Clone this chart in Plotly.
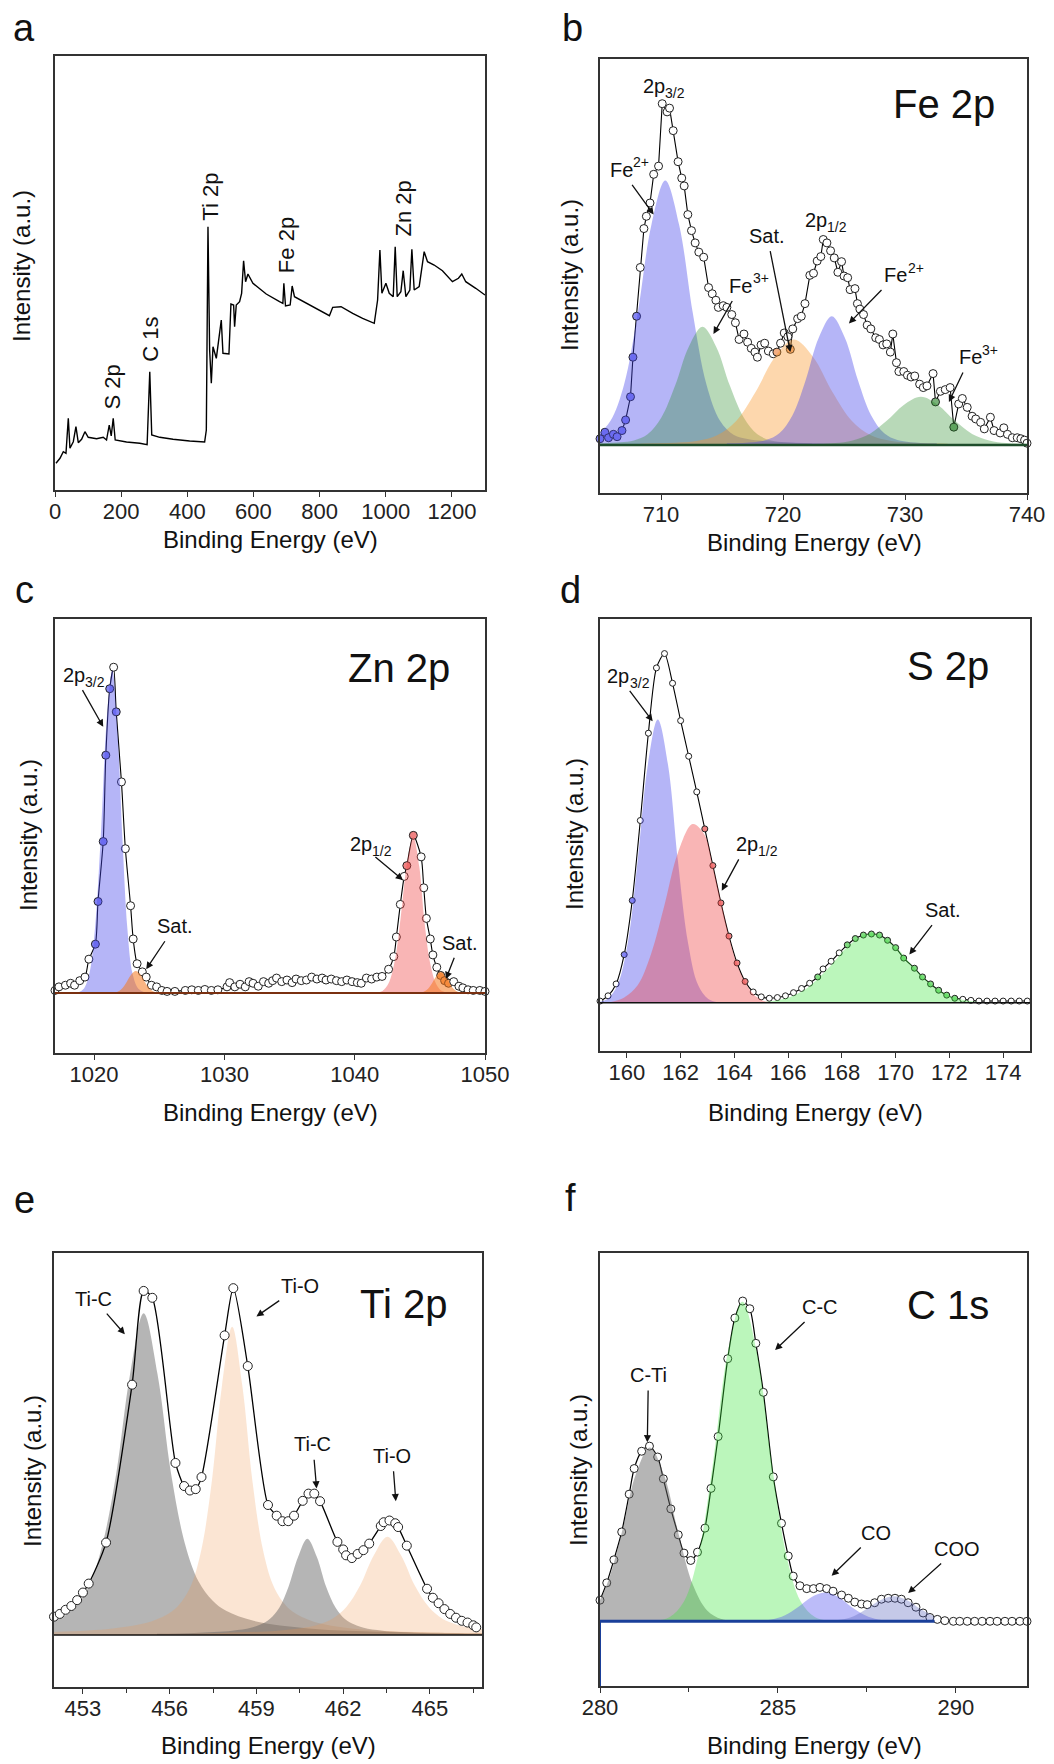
import numpy as np
import plotly.graph_objects as go

# ------------------------------------------------------------------ data
# (a) survey spectrum
A_E = [3.0, 15.1, 25.1, 33.2, 40.2, 45.2, 55.3, 63.3, 70.4, 80.4, 90.5, 100.5, 125.7, 145.8, 155.8, 164.0, 170.0, 176.0, 182.0, 216.2, 256.4, 278.5, 286.5, 292.5, 316.7, 356.9, 407.2, 452.4, 457.5, 462.5, 467.5, 472.6, 477.6, 487.7, 502.7, 507.8, 525.9, 531.9, 540.0, 543.0, 548.0, 558.1, 564.2, 570.2, 576.2, 583.3, 598.4, 638.6, 678.8, 688.9, 691.9, 696.9, 711.0, 717.0, 724.0, 759.2, 799.4, 829.6, 839.6, 864.8, 900.0, 930.0, 965.2, 975.3, 982.3, 988.3, 1000.4, 1010.5, 1022.5, 1028.5, 1034.6, 1045.7, 1052.7, 1060.8, 1072.8, 1078.9, 1085.9, 1101.0, 1116.1, 1126.2, 1146.3, 1171.4, 1201.6, 1219.7, 1229.8, 1241.8, 1272.0, 1300.0]
A_I = [26.7, 31.7, 38.3, 36.7, 71.7, 41.7, 48.3, 63.3, 47.3, 50.7, 58.3, 52.7, 51.3, 52.7, 50.0, 65.0, 54.0, 71.7, 50.0, 48.0, 46.7, 45.3, 118.3, 55.0, 52.7, 50.7, 49.0, 48.0, 60.0, 263.3, 140.0, 106.7, 143.3, 131.7, 170.0, 136.7, 136.0, 186.0, 185.0, 163.3, 185.0, 188.3, 196.7, 229.3, 208.3, 216.0, 206.7, 196.0, 188.3, 186.7, 206.7, 184.0, 185.0, 204.0, 193.3, 186.7, 180.0, 174.3, 182.7, 183.3, 176.7, 171.7, 166.7, 190.0, 240.0, 196.7, 206.7, 196.7, 193.3, 243.3, 193.3, 198.3, 219.3, 193.3, 200.0, 240.7, 200.0, 203.3, 238.3, 228.3, 225.0, 219.3, 208.3, 211.7, 216.0, 208.3, 201.7, 195.0]
A_LABELS = ["S 2p", "C 1s", "Ti 2p", "Fe 2p", "Zn 2p"]
A_LABEL_E = [171, 286.6, 467.5, 698.8, 1050.6]
A_LABEL_I = [103, 151, 293, 245, 281]

# (b) Fe 2p
B_E = [705.0, 705.4, 705.7, 706.1, 706.4, 706.8, 707.1, 707.5, 707.7, 708.0, 708.3, 708.6, 708.8, 709.1, 709.4, 709.8, 710.1, 710.5, 710.7, 711.0, 711.4, 711.7, 711.9, 712.2, 712.5, 712.8, 713.1, 713.5, 713.9, 714.2, 714.5, 714.7, 715.1, 715.4, 715.8, 716.1, 716.4, 716.8, 717.1, 717.4, 717.7, 717.9, 718.2, 718.5, 718.8, 719.2, 719.5, 719.8, 720.1, 720.4, 720.6, 720.8, 721.2, 721.5, 721.8, 722.2, 722.5, 722.8, 723.1, 723.3, 723.6, 723.9, 724.2, 724.5, 724.8, 725.0, 725.3, 725.5, 725.9, 726.1, 726.3, 726.6, 726.9, 727.2, 727.6, 727.9, 728.2, 728.5, 728.8, 729.0, 729.3, 729.5, 729.9, 730.2, 730.5, 730.8, 731.2, 731.5, 731.8, 732.3, 732.5, 732.9, 733.3, 733.7, 734.0, 734.4, 734.7, 735.1, 735.5, 735.8, 736.2, 736.5, 737.0, 737.3, 737.8, 738.1, 738.4, 738.8, 739.2, 739.5, 739.8, 740.0]
B_I = [1.8, 3.7, 2.1, 3.1, 2.4, 4.2, 7.3, 14.1, 25.7, 37.7, 52.0, 63.4, 67.0, 70.9, 79.3, 81.7, 100.0, 97.6, 98.7, 92.1, 83.0, 78.2, 75.9, 67.5, 62.8, 59.2, 56.5, 55.0, 46.1, 44.3, 42.4, 40.3, 40.8, 40.3, 38.2, 35.8, 30.9, 32.5, 30.1, 28.3, 27.2, 25.7, 29.3, 29.8, 27.5, 26.7, 27.2, 29.8, 32.8, 31.7, 28.0, 34.0, 37.0, 37.7, 41.4, 49.7, 50.3, 53.9, 55.2, 60.2, 59.2, 56.9, 54.8, 50.6, 53.7, 49.5, 49.0, 45.5, 45.8, 41.4, 39.8, 38.2, 35.1, 34.0, 31.4, 30.9, 29.3, 29.6, 27.2, 32.5, 24.1, 21.5, 21.5, 20.4, 19.9, 20.2, 17.8, 16.8, 17.3, 20.9, 12.6, 15.7, 16.2, 16.8, 5.2, 12.0, 13.6, 11.0, 8.4, 7.6, 6.6, 4.7, 8.1, 4.2, 3.5, 5.0, 3.1, 2.1, 2.1, 1.8, 1.4, 0.5]
B_FE2_32_E = [703.6, 704.72, 705.85, 706.98, 708.1, 709.22, 710.35, 711.48, 712.6, 713.72, 714.85, 715.98, 717.1, 719.35, 723.85]
B_FE2_32_I = [1.7, 2.9, 7.0, 17.8, 38.8, 64.6, 77.5, 64.6, 38.8, 17.8, 7.0, 2.9, 1.7, 0.9, 0.3]
B_FE3_32_E = [704.4, 706.65, 707.78, 708.9, 710.03, 711.15, 712.28, 713.4, 714.52, 715.65, 716.78, 717.9, 719.03, 720.15, 722.4]
B_FE3_32_I = [0.4, 0.75, 1.3, 3.1, 8.0, 17.3, 28.8, 34.6, 28.8, 17.3, 8.0, 3.1, 1.3, 0.75, 0.4]
B_SAT_E = [708.3, 711.45, 713.03, 714.6, 716.18, 717.75, 719.33, 720.9, 722.48, 724.05, 725.63, 727.2, 728.78, 730.35, 733.5]
B_SAT_I = [0.37, 0.67, 1.2, 2.8, 7.1, 15.5, 25.7, 30.9, 25.7, 15.5, 7.1, 2.8, 1.2, 0.67, 0.37]
B_FE2_12_E = [715.4, 717.55, 718.62, 719.7, 720.78, 721.85, 722.93, 724.0, 725.07, 726.15, 727.22, 728.3, 729.38, 730.45, 732.6]
B_FE2_12_I = [0.45, 0.8, 1.4, 3.4, 8.7, 18.9, 31.4, 37.7, 31.4, 18.9, 8.7, 3.4, 1.4, 0.8, 0.45]
B_FE3_12_E = [720.1, 722.9, 724.3, 725.7, 727.1, 728.5, 729.9, 731.3, 732.7, 734.1, 735.5, 736.9, 738.3, 739.7, 742.5]
B_FE3_12_I = [0.17, 0.3, 0.54, 1.3, 3.2, 7.05, 11.7, 14.1, 11.7, 7.05, 3.2, 1.3, 0.54, 0.3, 0.17]

# (c) Zn 2p
C_E = [1017.0, 1017.3, 1017.8, 1018.2, 1018.5, 1018.9, 1019.3, 1019.6, 1020.1, 1020.3, 1020.7, 1020.9, 1021.2, 1021.5, 1021.7, 1022.1, 1022.4, 1022.8, 1023.0, 1023.3, 1023.7, 1024.0, 1024.4, 1024.8, 1025.2, 1025.6, 1026.2, 1027.0, 1027.5, 1028.0, 1028.5, 1029.0, 1029.5, 1030.2, 1030.4, 1030.8, 1031.2, 1031.6, 1031.9, 1032.2, 1032.6, 1033.0, 1033.4, 1033.7, 1034.0, 1034.4, 1034.8, 1035.2, 1035.5, 1035.9, 1036.3, 1036.7, 1037.1, 1037.5, 1037.8, 1038.2, 1038.6, 1039.0, 1039.4, 1039.8, 1040.2, 1040.5, 1040.9, 1041.3, 1041.7, 1042.1, 1042.6, 1043.0, 1043.2, 1043.5, 1043.8, 1044.0, 1044.5, 1045.1, 1045.3, 1045.5, 1045.8, 1046.0, 1046.3, 1046.6, 1046.9, 1047.2, 1047.6, 1048.0, 1048.3, 1048.7, 1049.1, 1049.6, 1050.0]
C_I = [0.8, 1.9, 2.4, 3.0, 2.4, 3.8, 4.9, 10.4, 15.0, 28.1, 46.5, 73.0, 93.4, 100.0, 86.3, 64.8, 44.3, 26.8, 16.6, 9.0, 6.5, 4.9, 2.4, 1.9, 0.8, 0.5, 0.5, 0.8, 1.0, 0.8, 1.1, 0.8, 1.0, 1.9, 3.2, 1.9, 2.7, 1.9, 3.5, 3.0, 2.1, 3.5, 3.0, 3.8, 4.6, 3.5, 4.0, 3.2, 4.3, 3.8, 4.0, 4.9, 4.3, 4.6, 4.0, 4.3, 3.8, 3.5, 4.0, 3.5, 3.2, 3.0, 4.6, 4.3, 4.9, 5.1, 7.3, 11.2, 17.2, 27.2, 35.8, 39.1, 48.4, 41.8, 32.3, 22.9, 16.6, 11.7, 7.9, 5.4, 3.8, 3.0, 3.5, 2.1, 1.6, 1.0, 0.8, 0.8, 0.5]
C_2P32_E = [1018.78, 1019.21, 1019.65, 1020.09, 1020.53, 1020.96, 1021.4, 1021.8, 1022.18, 1022.55, 1022.95, 1023.4, 1023.9]
C_2P32_I = [0.2, 1.3, 6.2, 20.8, 49.5, 83.3, 99.0, 80.0, 47.0, 20.0, 6.0, 1.3, 0.2]
C_SAT1_E = [1021.1, 1021.45, 1021.8, 1022.15, 1022.5, 1022.85, 1023.2, 1023.55, 1023.9, 1024.25, 1024.6, 1024.95, 1025.3]
C_SAT1_I = [0.01, 0.09, 0.43, 1.43, 3.4, 5.7, 6.8, 5.7, 3.4, 1.43, 0.43, 0.09, 0.01]
C_2P12_E = [1041.65, 1042.13, 1042.6, 1043.08, 1043.55, 1044.03, 1044.5, 1044.95, 1045.35, 1045.8, 1046.25, 1046.7, 1047.2]
C_2P12_I = [0.1, 0.64, 3.0, 10.0, 23.9, 40.2, 47.8, 39.0, 22.0, 9.0, 2.8, 0.6, 0.1]
C_SAT2_E = [1044.65, 1044.98, 1045.3, 1045.63, 1045.95, 1046.28, 1046.6, 1046.93, 1047.25, 1047.58, 1047.9, 1048.23, 1048.55]
C_SAT2_I = [0.01, 0.08, 0.39, 1.3, 3.1, 5.2, 6.2, 5.2, 3.1, 1.3, 0.39, 0.08, 0.01]

# (d) S 2p
D_E = [159.0, 159.3, 159.6, 159.9, 160.2, 160.5, 160.8, 161.1, 161.4, 161.7, 162.0, 162.3, 162.6, 162.9, 163.2, 163.5, 163.8, 164.1, 164.4, 164.7, 165.0, 165.3, 165.6, 165.9, 166.2, 166.5, 166.8, 167.1, 167.3, 167.6, 167.9, 168.2, 168.5, 168.8, 169.1, 169.4, 169.7, 170.0, 170.3, 170.7, 171.0, 171.3, 171.6, 171.9, 172.2, 172.5, 172.8, 173.1, 173.4, 173.7, 174.0, 174.3, 174.6, 174.9]
D_I = [0.5, 2.0, 5.4, 13.8, 29.3, 52.2, 77.2, 95.9, 100.0, 91.5, 80.8, 70.6, 60.4, 49.8, 39.3, 28.6, 19.1, 11.4, 6.1, 3.1, 1.7, 1.3, 1.5, 2.0, 2.9, 4.1, 5.6, 7.4, 9.7, 11.9, 14.3, 16.6, 18.4, 19.4, 19.7, 19.4, 17.9, 15.8, 12.8, 9.9, 7.4, 5.4, 3.6, 2.2, 1.3, 1.0, 0.7, 0.5, 0.5, 0.5, 0.5, 0.5, 0.5, 0.5]
D_2P32_E = [158.9, 159.28, 159.65, 160.03, 160.4, 160.78, 161.15, 161.53, 161.9, 162.28, 162.65, 163.03, 163.4]
D_2P32_I = [0.16, 1.1, 5.1, 17.0, 40.6, 68.2, 81.1, 68.2, 40.6, 17.0, 5.1, 1.1, 0.16]
D_2P12_E = [159.3, 159.9, 160.4, 160.9, 161.4, 161.9, 162.45, 162.9, 163.2, 163.5, 163.8, 164.1, 164.4, 164.7, 165.1, 165.5]
D_2P12_I = [0.0, 1.5, 5.0, 14.0, 28.0, 43.0, 51.2, 48.0, 39.0, 29.0, 19.0, 11.0, 6.0, 2.5, 0.5, 0.0]
D_SAT_E = [164.3, 165.1, 165.9, 166.7, 167.5, 168.3, 169.1, 169.9, 170.7, 171.5, 172.3, 173.1, 173.9]
D_SAT_I = [0.04, 0.26, 1.24, 4.2, 9.95, 16.7, 19.9, 16.7, 9.95, 4.2, 1.24, 0.26, 0.04]

# (e) Ti 2p
E_E = [452.0, 452.2, 452.4, 452.6, 452.8, 453.0, 453.2, 453.8, 454.7, 455.1, 455.4, 456.2, 456.5, 456.7, 456.9, 457.1, 457.9, 458.2, 458.7, 459.4, 459.7, 459.9, 460.1, 460.3, 460.6, 460.8, 461.0, 461.2, 461.8, 462.0, 462.1, 462.3, 462.5, 462.7, 462.9, 463.3, 463.4, 463.6, 463.8, 463.9, 464.2, 464.9, 465.1, 465.3, 465.5, 465.7, 465.9, 466.1, 466.3, 466.5, 466.6]
E_I = [5.3, 6.1, 7.3, 8.4, 10.1, 12.3, 14.9, 26.8, 72.6, 99.8, 97.8, 49.9, 43.2, 41.9, 42.3, 45.8, 86.9, 100.6, 78.0, 37.7, 34.6, 33.0, 33.0, 34.6, 38.9, 41.0, 41.0, 38.8, 27.0, 24.8, 23.1, 22.3, 23.5, 24.6, 26.5, 31.6, 32.7, 33.2, 32.4, 31.3, 25.9, 13.4, 10.8, 9.2, 7.5, 6.1, 5.0, 4.1, 3.6, 2.8, 2.2]
E_TIC1_E = [451.3, 452.25, 452.73, 453.2, 453.68, 454.15, 454.63, 455.1, 455.58, 456.05, 456.53, 457.0, 457.48, 457.95, 458.9, 460.8, 462.7, 466.5, 467.0]
E_TIC1_I = [2.5, 5.0, 8.0, 14.0, 26.4, 46.7, 75.6, 93.3, 75.6, 46.7, 26.4, 15.5, 10.0, 7.0, 4.1, 1.9, 1.1, 0.5, 0.45]
E_TIO1_E = [451.16, 453.96, 455.36, 456.06, 456.41, 456.76, 457.11, 457.46, 457.81, 458.16, 458.51, 458.86, 459.21, 459.56, 459.91, 460.26, 460.96, 462.36, 465.16, 467.2]
E_TIO1_I = [0.7, 1.8, 3.9, 6.7, 9.6, 14.8, 25.3, 44.7, 72.4, 89.4, 72.4, 44.7, 25.3, 14.8, 9.6, 6.7, 3.9, 1.8, 0.7, 0.45]
E_TIC2_E = [455.56, 456.86, 458.16, 458.81, 459.14, 459.46, 459.79, 460.11, 460.44, 460.76, 461.09, 461.41, 461.74, 462.06, 462.39, 462.71, 463.36, 464.66, 465.96, 467.2]
E_TIC2_I = [0.32, 0.57, 1.23, 2.1, 3.0, 4.6, 7.9, 14.0, 22.6, 27.9, 22.6, 14.0, 7.9, 4.6, 3.0, 2.1, 1.23, 0.57, 0.32, 0.2]
E_TIO2_E = [451.5, 455.93, 457.83, 459.73, 460.68, 461.16, 461.63, 462.11, 462.58, 463.06, 463.53, 464.0, 464.48, 464.96, 465.43, 465.91, 466.38, 467.33]
E_TIO2_I = [0.2, 0.33, 0.58, 1.25, 2.15, 3.05, 4.7, 8.1, 14.25, 23.1, 28.5, 23.1, 14.25, 8.1, 4.7, 3.05, 2.15, 1.25]

# (f) C 1s
F_E = [280.0, 280.19, 280.39, 280.61, 280.82, 280.96, 281.17, 281.39, 281.62, 281.78, 281.99, 282.2, 282.36, 282.55, 282.74, 282.95, 283.12, 283.32, 283.59, 283.79, 284.01, 284.21, 284.38, 284.59, 284.87, 285.1, 285.29, 285.43, 285.62, 285.81, 286.0, 286.18, 286.37, 286.55, 286.79, 286.98, 287.16, 287.35, 287.51, 287.72, 287.91, 288.1, 288.29, 288.47, 288.66, 288.88, 289.08, 289.27, 289.48, 289.69, 289.93, 290.11, 290.32, 290.53, 290.74, 290.96, 291.16, 291.38, 291.58, 291.8, 292.0]
F_I = [6.6, 12.0, 19.2, 27.9, 39.7, 47.7, 53.1, 54.7, 51.3, 44.5, 35.1, 27.0, 21.3, 19.0, 21.6, 29.1, 41.5, 57.7, 82.0, 94.7, 100.0, 97.6, 86.8, 71.5, 45.1, 30.6, 20.4, 14.1, 11.1, 10.2, 10.2, 10.6, 10.2, 9.4, 8.2, 7.2, 6.0, 5.4, 5.2, 5.8, 6.9, 7.2, 7.2, 6.9, 5.8, 4.4, 2.6, 1.2, 0.6, 0.2, 0.0, 0.0, 0.0, 0.0, 0.0, 0.0, 0.0, 0.0, 0.0, 0.0, 0.0]
F_CTI_E = [279.0, 279.39, 279.8, 280.19, 280.6, 281.0, 281.4, 281.8, 282.21, 282.61, 283.01, 283.41, 283.82]
F_CTI_I = [0.1, 0.7, 3.4, 11.4, 27.2, 45.7, 54.3, 45.7, 27.2, 11.4, 3.4, 0.7, 0.1]
F_CC_E = [281.54, 281.95, 282.36, 282.77, 283.18, 283.59, 284.0, 284.41, 284.82, 285.23, 285.64, 286.05, 286.46]
F_CC_I = [0.2, 1.3, 6.2, 21.0, 49.9, 83.9, 99.8, 83.9, 49.9, 21.0, 6.2, 1.3, 0.2]
F_CO_E = [284.07, 284.45, 284.82, 285.2, 285.57, 285.95, 286.32, 286.7, 287.07, 287.45, 287.82, 288.2, 288.57]
F_CO_I = [0.02, 0.12, 0.56, 1.9, 4.5, 7.6, 9.0, 7.6, 4.5, 1.9, 0.56, 0.12, 0.02]
F_COO_E = [286.0, 286.38, 286.75, 287.13, 287.5, 287.88, 288.25, 288.63, 289.0, 289.38]
F_COO_I = [0.02, 0.1, 0.49, 1.6, 3.9, 6.6, 7.8, 6.6, 3.9, 1.6]

# ------------------------------------------------------------------ style
FONT = "Arial, 'Liberation Sans', Helvetica, sans-serif"
W, H = 1054, 1764
BLUE = "rgba(70,70,235,0.40)"
GREEN_B = "rgba(40,140,40,0.33)"
ORANGE_B = "rgba(250,150,40,0.38)"
RED = "rgba(240,70,70,0.40)"
ORANGE_C = "rgba(245,120,30,0.55)"
LGREEN = "rgba(60,230,60,0.35)"
GRAY = "rgba(100,100,100,0.48)"
PEACH = "rgba(240,150,80,0.25)"
CO_BLUE = "rgba(80,80,240,0.38)"
COO_BLUE = "rgba(90,100,190,0.35)"
DOT = {BLUE: "#8484f3", GREEN_B: "#7ab27a", ORANGE_B: "#f2ae82", RED: "#f08282",
       ORANGE_C: "#f5a060", LGREEN: "#82dc82"}

PANELS = {
    1: dict(px=(55, 485), py=(56, 490), xr=[0, 1300], yr=[0, 434], tick0=0, dtick=200, minor=None),
    2: dict(px=(600, 1027), py=(59, 493), xr=[705, 740], yr=[-14.1, 113.1], tick0=710, dtick=10, minor=None),
    3: dict(px=(55, 485), py=(619, 1053), xr=[1017, 1050], yr=[-18.4, 114.8], tick0=1020, dtick=10, minor=None),
    4: dict(px=(600, 1030), py=(619, 1051), xr=[159, 175], yr=[-13.8, 109.9], tick0=160, dtick=2, minor=None),
    5: dict(px=(54, 482), py=(1253, 1687), xr=[452, 466.8], yr=[-15.1, 110.8], tick0=453, dtick=3, minor=1.5),
    6: dict(px=(600, 1027), py=(1253, 1686), xr=[280, 292], yr=[-20.2, 115], tick0=280, dtick=5, minor=2.5),
}

# approximate Arial advance widths (em) used to lay out labels with sub/superscripts
CHAR_W = {"2": .556, "1": .556, "3": .556, "p": .556, "F": .611, "e": .556, "+": .584, "/": .278}

fig = go.Figure()
layout = dict(template="none", width=W, height=H, autosize=False,
              margin=dict(l=0, r=0, t=0, b=0, pad=0, autoexpand=False),
              paper_bgcolor="white", plot_bgcolor="white", showlegend=False,
              font=dict(family=FONT, color="#222", size=20))
annotations = []
shapes = []


def ax(n):
    return ("x" if n == 1 else f"x{n}"), ("y" if n == 1 else f"y{n}")


def units_per_px(n):
    p = PANELS[n]
    return ((p["xr"][1] - p["xr"][0]) / (p["px"][1] - p["px"][0]),
            (p["yr"][1] - p["yr"][0]) / (p["py"][1] - p["py"][0]))


def text_w(s, size):
    return sum(CHAR_W.get(c, .556) for c in s) * size


for n, p in PANELS.items():
    xa = dict(domain=[p["px"][0] / W, p["px"][1] / W], range=p["xr"], anchor=ax(n)[1],
              automargin=False, showline=True, mirror=True, linecolor="#333", linewidth=1.5,
              ticks="outside", ticklen=5, tickwidth=1.3, tickcolor="#333",
              tick0=p["tick0"], dtick=p["dtick"], showgrid=False, zeroline=False,
              ticklabelstandoff=-4,
              tickfont=dict(size=22, family=FONT, color="#222"))
    if p["minor"]:
        xa["minor"] = dict(dtick=p["minor"], tick0=p["tick0"], ticks="outside", ticklen=4,
                           tickwidth=1.2, tickcolor="#333", showgrid=False)
    ya = dict(domain=[1 - p["py"][1] / H, 1 - p["py"][0] / H], range=p["yr"], anchor=ax(n)[0],
              automargin=False, showline=True, mirror=True, linecolor="#333", linewidth=1.5,
              ticks="", showticklabels=False, showgrid=False, zeroline=False)
    layout["xaxis" if n == 1 else f"xaxis{n}"] = xa
    layout["yaxis" if n == 1 else f"yaxis{n}"] = ya


def line(n, x, y, color="black", width=1.2, shape="spline"):
    xa, ya = ax(n)
    fig.add_trace(go.Scatter(x=x, y=y, mode="lines", xaxis=xa, yaxis=ya, hoverinfo="skip",
                             line=dict(color=color, width=width, shape=shape, smoothing=0.7)))


def circles(n, x, y, size=8, bands=()):
    """Open circles; a circle lying inside a fitted band takes that band's tint."""
    xa, ya = ax(n)
    cols = []
    for xi, yi in zip(x, y):
        best, col = 1.5, "white"
        for bx, by, bc in bands:
            v = float(np.interp(xi, bx, by, left=0.0, right=0.0))
            if v > best and yi <= v * 1.04 + 0.4:
                best, col = v, DOT[bc]
        cols.append(col)
    fig.add_trace(go.Scatter(x=x, y=y, mode="markers", xaxis=xa, yaxis=ya, hoverinfo="skip",
                             cliponaxis=False,
                             marker=dict(symbol="circle", size=size, color=cols,
                                         line=dict(color="#222", width=1))))


def area(n, x, y, color):
    xa, ya = ax(n)
    fig.add_trace(go.Scatter(x=x, y=y, mode="none", xaxis=xa, yaxis=ya, hoverinfo="skip",
                             fill="tozeroy", fillcolor=color,
                             line=dict(shape="spline", smoothing=1)))


def _ann(n, s, x, y, size, hx=None, hy=None, angle=0):
    xa, ya = ax(n)
    a = dict(text=s, xref=xa, yref=ya, textangle=angle,
             font=dict(size=size, family=FONT, color="#111"))
    if hx is None:
        a.update(x=x, y=y, showarrow=False, xanchor="center", yanchor="middle")
    else:
        a.update(x=hx, y=hy, ax=x, ay=y, axref=xa, ayref=ya, showarrow=True,
                 arrowhead=2, arrowsize=1.1, arrowwidth=1.3, arrowcolor="#111",
                 standoff=0, startstandoff=3)
    annotations.append(a)


def label(n, s, tx, ty, hx=None, hy=None, size=20, angle=0, script=None, kind="sub"):
    """Label centred at (tx, ty); optional arrow to (hx, hy); optional sub/superscript
    drawn as its own smaller text next to the main text."""
    if script is None:
        _ann(n, s, tx, ty, size, hx, hy, angle)
        return
    ssize = round(size * 0.7)
    wb, ws = text_w(s, size), text_w(script, ssize)
    ux, uy = units_per_px(n)
    left = -(wb + ws) / 2.0
    base_x = tx + (left + wb / 2.0) * ux
    scr_x = tx + (left + wb + ws / 2.0 + 0.5) * ux
    scr_y = ty + (-7.0 if kind == "sub" else 7.5) * uy
    _ann(n, s, base_x, ty, size, hx, hy)
    _ann(n, script, scr_x, scr_y, ssize)


def paper_text(s, px, py, size, angle=0):
    annotations.append(dict(text=s, x=px / W, y=1 - py / H, xref="paper", yref="paper",
                            showarrow=False, textangle=angle, xanchor="center", yanchor="middle",
                            font=dict(size=size, family=FONT, color="#111")))


def baseline(n, x0, x1, color, width):
    xa, ya = ax(n)
    shapes.append(dict(type="line", xref=xa, yref=ya, x0=x0, x1=x1, y0=0, y1=0,
                       line=dict(color=color, width=width)))


# (a)
line(1, A_E, A_I, width=1.4, shape="linear")
for s, e, i in zip(A_LABELS, A_LABEL_E, A_LABEL_I):
    label(1, s, e, i, size=22, angle=-90)

# (b)
b_bands = [(B_FE2_32_E, B_FE2_32_I, BLUE), (B_FE3_32_E, B_FE3_32_I, GREEN_B),
           (B_SAT_E, B_SAT_I, ORANGE_B), (B_FE2_12_E, B_FE2_12_I, BLUE),
           (B_FE3_12_E, B_FE3_12_I, GREEN_B)]
line(2, B_E, B_I, width=1.1, shape="linear")
circles(2, B_E, B_I, size=8, bands=b_bands)
for bx, by, bc in b_bands:
    area(2, bx, by, bc)
baseline(2, 705, 740, "#1e4d2b", 2.5)
label(2, "Fe 2p", 733.2, 100, size=40)
label(2, "2p", 710.2, 105.2, script="3/2", kind="sub")
label(2, "Fe", 707.4, 80.6, 709.4, 67.5, script="2+", kind="sup")
label(2, "Fe", 717.2, 46.6, 714.3, 32.5, script="3+", kind="sup")
label(2, "Sat.", 718.7, 61.3, 720.6, 27.2)
label(2, "2p", 723.5, 66.0, script="1/2", kind="sub")
label(2, "Fe", 729.9, 49.7, 725.4, 35.6, script="2+", kind="sup")
label(2, "Fe", 736.0, 25.7, 733.6, 12.6, script="3+", kind="sup")

# (c)
c_bands = [(C_2P32_E, C_2P32_I, BLUE), (C_SAT1_E, C_SAT1_I, ORANGE_C),
           (C_2P12_E, C_2P12_I, RED), (C_SAT2_E, C_SAT2_I, ORANGE_C)]
line(3, C_E, C_I, width=1.1)
circles(3, C_E, C_I, size=8, bands=c_bands)
for bx, by, bc in c_bands:
    area(3, bx, by, bc)
baseline(3, 1017, 1050, "#7a3010", 2)
label(3, "Zn 2p", 1043.4, 99.8, size=40)
label(3, "2p", 1019.2, 97.6, 1020.7, 81.7, script="3/2", kind="sub")
label(3, "Sat.", 1026.2, 20.5, 1024.0, 7.3)
label(3, "2p", 1041.2, 45.6, 1043.7, 34.7, script="1/2", kind="sub")
label(3, "Sat.", 1048.1, 15.5, 1047.0, 4.3)

# (d)
d_bands = [(D_2P32_E, D_2P32_I, BLUE), (D_2P12_E, D_2P12_I, RED), (D_SAT_E, D_SAT_I, LGREEN)]
line(4, D_E, D_I, width=1.1)
circles(4, D_E, D_I, size=6, bands=d_bands)
for bx, by, bc in d_bands:
    area(4, bx, by, bc)
baseline(4, 159, 175, "#111", 1.5)
label(4, "S 2p", 171.96, 96.4, size=40)
label(4, "2p", 160.05, 93.6, 160.96, 80.6, script="3/2", kind="sub")
label(4, "2p", 164.83, 45.4, 163.53, 32.1, script="1/2", kind="sub")
label(4, "Sat.", 171.78, 26.5, 170.51, 13.8)

# (e)
area(5, E_TIC1_E, E_TIC1_I, GRAY)
area(5, E_TIO1_E, E_TIO1_I, PEACH)
area(5, E_TIC2_E, E_TIC2_I, GRAY)
area(5, E_TIO2_E, E_TIO2_I, PEACH)
baseline(5, 452, 466.8, "#111", 1.5)
line(5, E_E, E_I, width=1.3)
circles(5, E_E, E_I, size=9)
label(5, "Ti 2p", 464.1, 96.1, size=40)
label(5, "Ti-C", 453.38, 97.5, 454.45, 87.2)
label(5, "Ti-O", 460.5, 101.1, 459.0, 92.4)
label(5, "Ti-C", 460.95, 55.3, 461.08, 42.5)
label(5, "Ti-O", 463.7, 52.0, 463.82, 38.8)

# (f)
line(6, F_E, F_I, width=1.2)
circles(6, F_E, F_I, size=8)
area(6, F_CTI_E, F_CTI_I, GRAY)
area(6, F_CC_E, F_CC_I, LGREEN)
area(6, F_CO_E, F_CO_I, CO_BLUE)
area(6, F_COO_E, F_COO_I, COO_BLUE)
baseline(6, 280, 289.4, "#1a3f9a", 3)
shapes.append(dict(type="line", xref="x6", yref="y6", x0=280, x1=280, y0=-20.2, y1=0,
                   line=dict(color="#1a3f9a", width=2)))
label(6, "C 1s", 289.78, 98.8, size=40)
label(6, "C-Ti", 281.36, 76.9, 281.33, 55.9)
label(6, "C-C", 286.18, 98.0, 284.92, 84.7)
label(6, "CO", 287.75, 27.6, 286.51, 14.2)
label(6, "COO", 290.04, 22.6, 288.66, 8.8)

# panel letters, axis titles
for s, px, py in [("a", 24, 28), ("b", 572, 28), ("c", 24, 590), ("d", 570, 590),
                  ("e", 24, 1200), ("f", 570, 1198)]:
    paper_text(s, px, py, 38)
for px, py in [(21, 266), (570, 275), (28, 835), (574, 834), (32, 1471), (578, 1470)]:
    paper_text("Intensity (a.u.)", px, py, 24, angle=-90)
for px, py in [(270, 539), (814, 542), (270, 1112), (815, 1112), (268, 1745), (814, 1745)]:
    paper_text("Binding Energy (eV)", px, py, 24)

layout["annotations"] = annotations
layout["shapes"] = shapes
fig.update_layout(**layout)
fig.write_html("out.html")
